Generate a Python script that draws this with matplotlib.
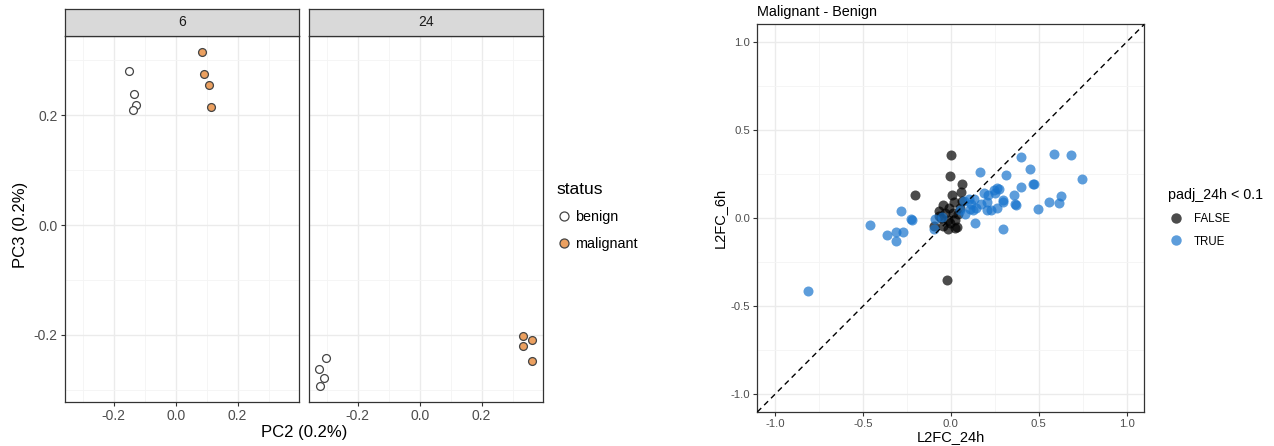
import numpy as np
import matplotlib.pyplot as plt
from matplotlib.lines import Line2D

plt.rcParams['font.family'] = ['Liberation Sans', 'DejaVu Sans']

# --- PCA data (PC2 vs PC3), faceted by time point ---
facets = ["6", "24"]
benign_pc2 = {"6": [-0.151, -0.133, -0.129, -0.139],
              "24": [-0.303, -0.325, -0.308, -0.320]}
benign_pc3 = {"6": [0.280, 0.239, 0.219, 0.210],
              "24": [-0.243, -0.262, -0.279, -0.294]}
malig_pc2 = {"6": [0.084, 0.090, 0.109, 0.113],
             "24": [0.334, 0.363, 0.334, 0.361]}
malig_pc3 = {"6": [0.315, 0.276, 0.256, 0.215],
             "24": [-0.203, -0.209, -0.221, -0.248]}

# --- L2FC data (24h vs 6h) ---
true_24h = [-0.812, -0.460, -0.360, -0.311, -0.311, -0.271, -0.284, -0.227, -0.222,
            -0.091, -0.095, -0.051, 0.165, 0.138, 0.299, 0.311, 0.398, 0.585, 0.684,
            0.746, 0.453, 0.468, 0.475, 0.398, 0.358, 0.366, 0.371, 0.494, 0.561,
            0.617, 0.627, 0.297, 0.294, 0.265, 0.231, 0.205, 0.263, 0.246, 0.212,
            0.186, 0.170, 0.146, 0.127, 0.108, 0.131, 0.104, 0.074, 0.083, 0.051,
            0.203, 0.250, 0.275, 0.117]
true_6h = [-0.412, -0.040, -0.094, -0.077, -0.127, -0.079, 0.038, -0.004, -0.011,
           -0.002, -0.064, 0.004, 0.263, -0.025, -0.060, 0.246, 0.346, 0.366, 0.359,
           0.223, 0.280, 0.195, 0.195, 0.179, 0.134, 0.079, 0.074, 0.053, 0.091,
           0.085, 0.128, 0.104, 0.093, 0.055, 0.045, 0.045, 0.170, 0.159, 0.130,
           0.145, 0.083, 0.059, 0.049, 0.053, 0.110, 0.110, 0.098, 0.021, 0.049,
           0.091, 0.144, 0.168, 0.083]
false_24h = [0.002, -0.002, 0.061, 0.057, 0.004, -0.206, -0.021, 0.019, -0.044,
             -0.066, -0.034, -0.009, 0.013, 0.042, -0.053, -0.015, 0.023, -0.047,
             -0.017, 0.023, 0.036, -0.095, -0.002, -0.068, 0.051, 0.061]
false_6h = [0.357, 0.238, 0.195, 0.147, 0.132, 0.130, -0.351, 0.091, 0.072,
            0.038, 0.030, 0.059, 0.030, 0.021, 0.002, -0.008, -0.011, -0.045,
            -0.064, -0.055, -0.053, -0.045, -0.026, 0.011, 0.059, 0.100]

ORANGE = "#EBA060"
BLUE = "#1874CD"
W, H = 1274, 446


def bw_style(ax, major, minor_x, minor_y, fs):
    ax.set_xticks(major[0])
    ax.set_yticks(major[1])
    ax.set_xticks(minor_x, minor=True)
    ax.set_yticks(minor_y, minor=True)
    ax.grid(True, which='major', color='#ebebeb', lw=1.0, zorder=0)
    ax.grid(True, which='minor', color='#f4f4f4', lw=0.6, zorder=0)
    ax.set_axisbelow(True)
    ax.tick_params(which='major', length=3, color='#333333', labelsize=fs,
                   labelcolor='#4d4d4d', pad=2)
    ax.tick_params(which='minor', length=0)
    for s in ax.spines.values():
        s.set_color('#333333')
        s.set_linewidth(0.9)


fig = plt.figure(figsize=(W / 100, H / 100), dpi=100)

# --- left: faceted PCA ---
pca_left = [64.7, 308.7]
for i, f in enumerate(facets):
    ax = fig.add_axes([pca_left[i] / W, 1 - 402.3 / H, 234.6 / W, 366.6 / H])
    ax.scatter(benign_pc2[f], benign_pc3[f], s=32, facecolor='white',
               edgecolor='#444444', lw=0.9, zorder=3)
    ax.scatter(malig_pc2[f], malig_pc3[f], s=32, facecolor=ORANGE,
               edgecolor='#444444', lw=0.9, zorder=3)
    ax.set_xlim(-0.358, 0.399)
    ax.set_ylim(-0.323, 0.345)
    bw_style(ax, ([-0.2, 0.0, 0.2], [-0.2, 0.0, 0.2]),
             [-0.3, -0.1, 0.1, 0.3], [-0.3, -0.1, 0.1, 0.3], 10)
    ax.set_xticklabels(['-0.2', '0.0', '0.2'])
    if i == 0:
        ax.set_yticklabels(['-0.2', '0.0', '0.2'])
    else:
        ax.tick_params(axis='y', length=0, labelleft=False)
    # facet strip
    strip = fig.add_axes([pca_left[i] / W, 1 - 35.7 / H, 234.6 / W, 26.7 / H])
    strip.set_facecolor('#d9d9d9')
    strip.set_xticks([])
    strip.set_yticks([])
    for s in strip.spines.values():
        s.set_color('#333333')
        s.set_linewidth(0.9)
    strip.text(0.5, 0.5, f, ha='center', va='center', fontsize=10,
               color='#1a1a1a', transform=strip.transAxes)

fig.text(21 / W, 1 - 225 / H, "PC3 (0.2%)", rotation=90, ha='center',
         va='center', fontsize=12)
fig.text(304 / W, 1 - 433 / H, "PC2 (0.2%)", ha='center', va='center',
         fontsize=12)

status_handles = [
    Line2D([], [], ls='none', marker='o', ms=6.5, mfc='white', mec='#444444',
           mew=0.9, label='benign'),
    Line2D([], [], ls='none', marker='o', ms=6.5, mfc=ORANGE, mec='#444444',
           mew=0.9, label='malignant'),
]
leg1 = fig.legend(handles=status_handles, title='status', loc='upper left',
                  bbox_to_anchor=(551 / W, 1 - 176 / H), frameon=False,
                  fontsize=10.4, title_fontsize=12.5, handletextpad=0.28,
                  labelspacing=0.9, handlelength=1.0, borderaxespad=0)
leg1._legend_box.align = 'left'

# --- right: L2FC scatter ---
ax3 = fig.add_axes([757.3 / W, 1 - 412 / H, 387 / W, 387.7 / H])
ax3.scatter(false_24h, false_6h, s=52, color='black', alpha=0.7, lw=0, zorder=3)
ax3.scatter(true_24h, true_6h, s=52, color=BLUE, alpha=0.7, lw=0, zorder=3)
ax3.plot([-1.1, 1.1], [-1.1, 1.1], color='black', ls=(0, (4, 3)), lw=1.0, zorder=4)
ax3.set_xlim(-1.1, 1.1)
ax3.set_ylim(-1.1, 1.1)
bw_style(ax3, ([-1.0, -0.5, 0.0, 0.5, 1.0], [-1.0, -0.5, 0.0, 0.5, 1.0]),
         [-0.75, -0.25, 0.25, 0.75], [-0.75, -0.25, 0.25, 0.75], 8.2)
ax3.set_xticklabels(['-1.0', '-0.5', '0.0', '0.5', '1.0'])
ax3.set_yticklabels(['-1.0', '-0.5', '0.0', '0.5', '1.0'])
ax3.set_xlabel("L2FC_24h", fontsize=10.5, labelpad=1)
ax3.set_ylabel("L2FC_6h", fontsize=10.5, labelpad=3)
ax3.set_title("Malignant - Benign", fontsize=10.4, loc='left', pad=6)

padj_handles = [
    Line2D([], [], ls='none', marker='o', ms=7.5, mfc='black', mec='none',
           alpha=0.7, label='FALSE'),
    Line2D([], [], ls='none', marker='o', ms=7.5, mfc=BLUE, mec='none',
           alpha=0.7, label='TRUE'),
]
leg2 = fig.legend(handles=padj_handles, title='padj_24h < 0.1', loc='upper left',
                  bbox_to_anchor=(1163 / W, 1 - 183 / H), frameon=False,
                  fontsize=8.3, title_fontsize=10.3, handletextpad=0.9,
                  labelspacing=0.95, handlelength=1.4, borderaxespad=0)
leg2._legend_box.align = 'left'

fig.savefig('out.png', dpi=100)
